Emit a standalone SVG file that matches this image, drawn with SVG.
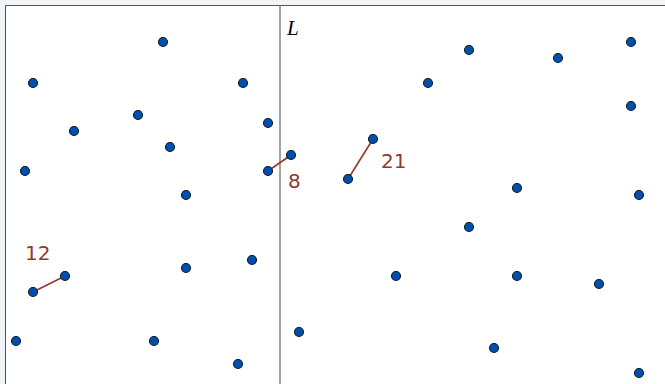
<svg xmlns="http://www.w3.org/2000/svg" width="665" height="384" viewBox="0 0 665 384">
<style>
.pt{fill:#0050aa;stroke:#0a1a2e;stroke-width:1.1}
.seg{stroke:#933a2c;stroke-width:1.6;fill:none}
.lbl{font-family:"DejaVu Sans","Noto Sans",sans-serif;font-size:20px;fill:#933a2c}
</style>
<rect x="0" y="0" width="665" height="384" fill="#f1f4f7"/>
<rect x="5.5" y="5.5" width="670" height="390" fill="#ffffff" stroke="#555555" stroke-width="1"/>
<g id="line-L">
<line x1="280" y1="5" x2="280" y2="384" stroke="#666666" stroke-width="1.2"/>
<text x="287" y="35" font-family="Liberation Serif,serif" font-style="italic" font-size="21" fill="#000">L</text>
</g>
<g id="connectors">
<line class="seg" x1="33" y1="292" x2="65" y2="276"/>
<line class="seg" x1="268" y1="171" x2="291" y2="155"/>
<line class="seg" x1="348" y1="179" x2="373" y2="139"/>
</g>
<g id="labels">
<text class="lbl" x="25" y="260">12</text>
<text class="lbl" x="288" y="188">8</text>
<text class="lbl" x="381" y="168">21</text>
</g>
<g id="points">
<circle class="pt" cx="163" cy="42" r="4.5"/>
<circle class="pt" cx="33" cy="83" r="4.5"/>
<circle class="pt" cx="243" cy="83" r="4.5"/>
<circle class="pt" cx="138" cy="115" r="4.5"/>
<circle class="pt" cx="74" cy="131" r="4.5"/>
<circle class="pt" cx="268" cy="123" r="4.5"/>
<circle class="pt" cx="170" cy="147" r="4.5"/>
<circle class="pt" cx="25" cy="171" r="4.5"/>
<circle class="pt" cx="268" cy="171" r="4.5"/>
<circle class="pt" cx="186" cy="195" r="4.5"/>
<circle class="pt" cx="65" cy="276" r="4.5"/>
<circle class="pt" cx="33" cy="292" r="4.5"/>
<circle class="pt" cx="186" cy="268" r="4.5"/>
<circle class="pt" cx="252" cy="260" r="4.5"/>
<circle class="pt" cx="16" cy="341" r="4.5"/>
<circle class="pt" cx="154" cy="341" r="4.5"/>
<circle class="pt" cx="238" cy="364" r="4.5"/>
<circle class="pt" cx="291" cy="155" r="4.5"/>
<circle class="pt" cx="348" cy="179" r="4.5"/>
<circle class="pt" cx="373" cy="139" r="4.5"/>
<circle class="pt" cx="469" cy="50" r="4.5"/>
<circle class="pt" cx="558" cy="58" r="4.5"/>
<circle class="pt" cx="631" cy="42" r="4.5"/>
<circle class="pt" cx="428" cy="83" r="4.5"/>
<circle class="pt" cx="631" cy="106" r="4.5"/>
<circle class="pt" cx="517" cy="188" r="4.5"/>
<circle class="pt" cx="639" cy="195" r="4.5"/>
<circle class="pt" cx="469" cy="227" r="4.5"/>
<circle class="pt" cx="396" cy="276" r="4.5"/>
<circle class="pt" cx="517" cy="276" r="4.5"/>
<circle class="pt" cx="599" cy="284" r="4.5"/>
<circle class="pt" cx="299" cy="332" r="4.5"/>
<circle class="pt" cx="494" cy="348" r="4.5"/>
<circle class="pt" cx="639" cy="373" r="4.5"/>
</g>
</svg>
